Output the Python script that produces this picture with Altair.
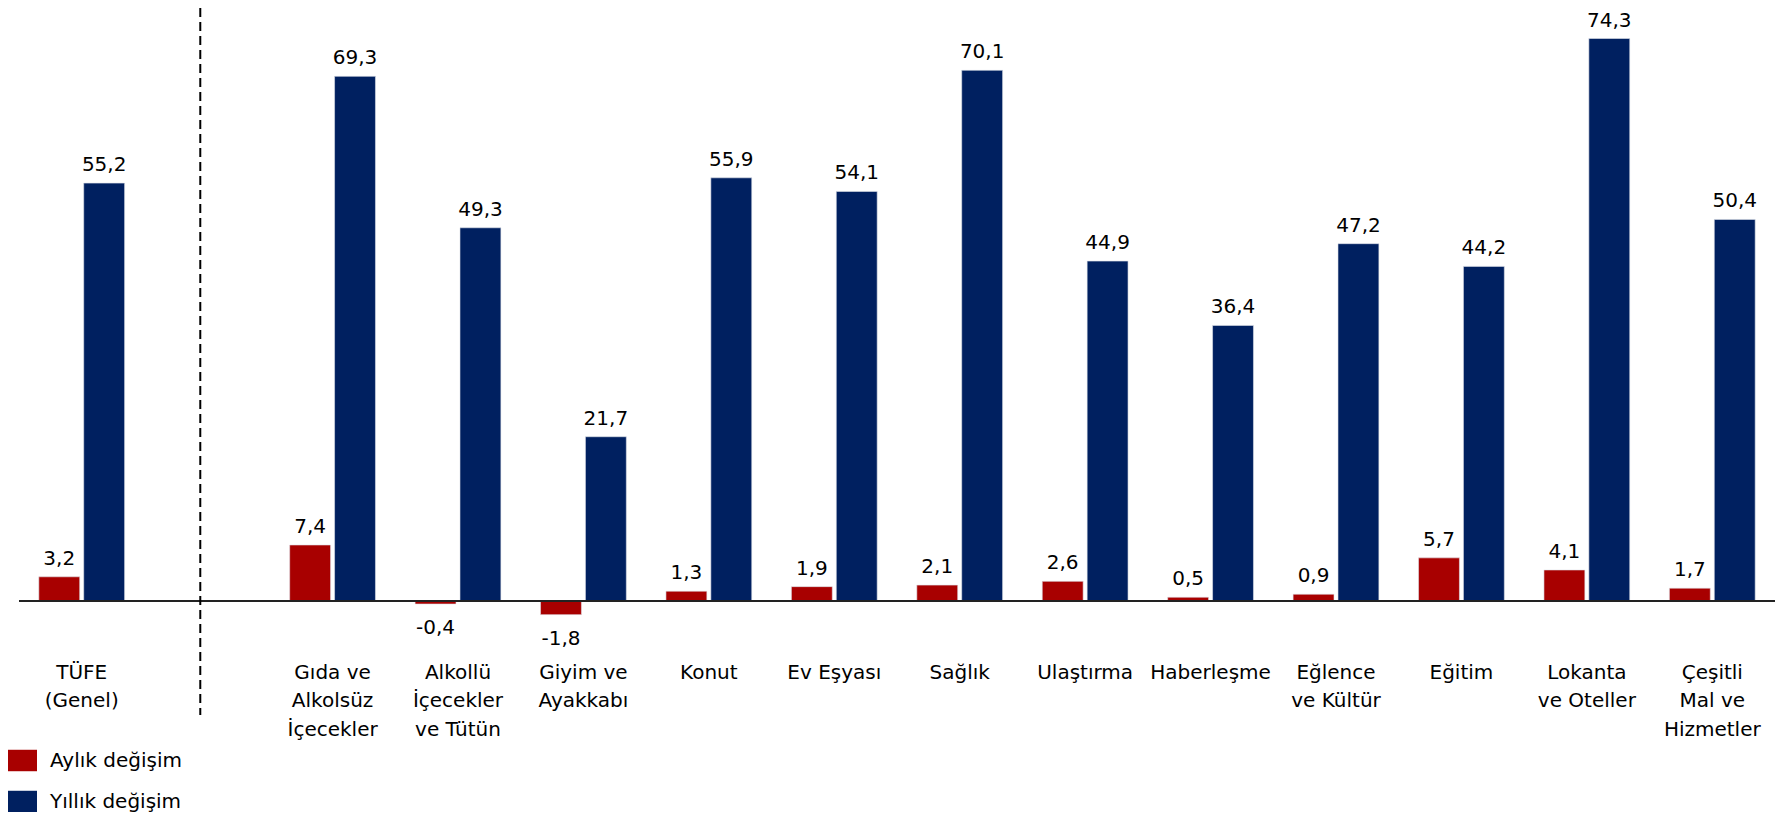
import altair as alt
import pandas as pd

# Categories (slot " " is the empty gap holding the dashed separator)
categories = ["TÜFE|(Genel)", " ", "Gıda ve|Alkolsüz|İçecekler", "Alkollü|İçecekler|ve Tütün",
              "Giyim ve|Ayakkabı", "Konut", "Ev Eşyası", "Sağlık", "Ulaştırma", "Haberleşme",
              "Eğlence|ve Kültür", "Eğitim", "Lokanta|ve Oteller", "Çeşitli|Mal ve|Hizmetler"]
data_categories = [c for c in categories if c != " "]
monthly = [3.2, 7.4, -0.4, -1.8, 1.3, 1.9, 2.1, 2.6, 0.5, 0.9, 5.7, 4.1, 1.7]
annual = [55.2, 69.3, 49.3, 21.7, 55.9, 54.1, 70.1, 44.9, 36.4, 47.2, 44.2, 74.3, 50.4]
series_names = ["Aylık değişim", "Yıllık değişim"]
series_colors = ["#A80000", "#002060"]

rows = []
for c, m, a in zip(data_categories, monthly, annual):
    rows.append({"cat": c, "series": series_names[0], "value": m})
    rows.append({"cat": c, "series": series_names[1], "value": a})
df = pd.DataFrame(rows)

FONT = "DejaVu Sans"

x_enc = alt.X("cat:N", sort=categories,
              scale=alt.Scale(domain=categories, paddingInner=0.316, paddingOuter=0.158),
              axis=alt.Axis(title=None, labelAngle=0, domain=False, ticks=False, tickSize=0,
                            labelPadding=12, labelFont=FONT, labelFontSize=20,
                            labelColor="#000000", labelLineHeight=28.5,
                            labelExpr="split(datum.value, '|')"))
xo_enc = alt.XOffset("series:N", sort=series_names,
                     scale=alt.Scale(domain=series_names, paddingInner=0.089, paddingOuter=0))
y_scale = alt.Scale(domain=[-6.47, 78.33], nice=False, zero=False)
y_enc = alt.Y("value:Q", scale=y_scale, axis=None)

base = alt.Chart(df).transform_calculate(
    label="replace(replace(format(datum.value, '.1f'), '.', ','), '\u2212', '-')"
)

bars = base.mark_bar(stroke="#dfe3ea", strokeWidth=0.6).encode(
    x=x_enc,
    xOffset=xo_enc,
    y=y_enc,
    y2=alt.Y2(datum=0),
    color=alt.Color("series:N", sort=series_names,
                    scale=alt.Scale(domain=series_names, range=series_colors),
                    legend=alt.Legend(title=None, orient="none", legendX=-11, legendY=738,
                                      padding=0, labelFont=FONT, labelFontSize=20,
                                      labelColor="#000000", labelOffset=13,
                                      symbolType="M-1,-0.74H1V0.74H-1Z", symbolSize=841,
                                      symbolStrokeWidth=0, symbolOpacity=1, rowPadding=15)),
)

pos_text = base.transform_filter("datum.value >= 0").mark_text(
    baseline="alphabetic", dy=-12, font=FONT, fontSize=20, color="#000000"
).encode(x=x_enc, xOffset=xo_enc, y=y_enc, text="label:N")

neg_text = base.transform_filter("datum.value < 0").mark_text(
    baseline="top", dy=14, font=FONT, fontSize=20, color="#000000"
).encode(x=x_enc, xOffset=xo_enc, y=y_enc, text="label:N")

zero_line = alt.Chart(pd.DataFrame({"z": [0]})).mark_rule(color="#222222", strokeWidth=2).encode(
    y=alt.Y("z:Q", scale=y_scale, axis=None)
)

sep = alt.Chart(pd.DataFrame({"cat": [" "]})).mark_rule(
    color="#000000", strokeWidth=2, strokeDash=[9, 5]
).encode(
    x=alt.X("cat:N", bandPosition=0.42,
            scale=alt.Scale(domain=categories, paddingInner=0.316, paddingOuter=0.158)),
    y=alt.value(0),
    y2=alt.value(707),
)

chart = alt.layer(bars, zero_line, sep, pos_text, neg_text).properties(
    width=1756, height=642,
    autosize=alt.AutoSizeParams(type="none"),
    padding={"left": 11, "right": 0, "top": 0, "bottom": 162},
    background="#ffffff",
).configure_view(stroke=None)

chart.save("out.html", embed_options={"renderer": "svg", "actions": False})
